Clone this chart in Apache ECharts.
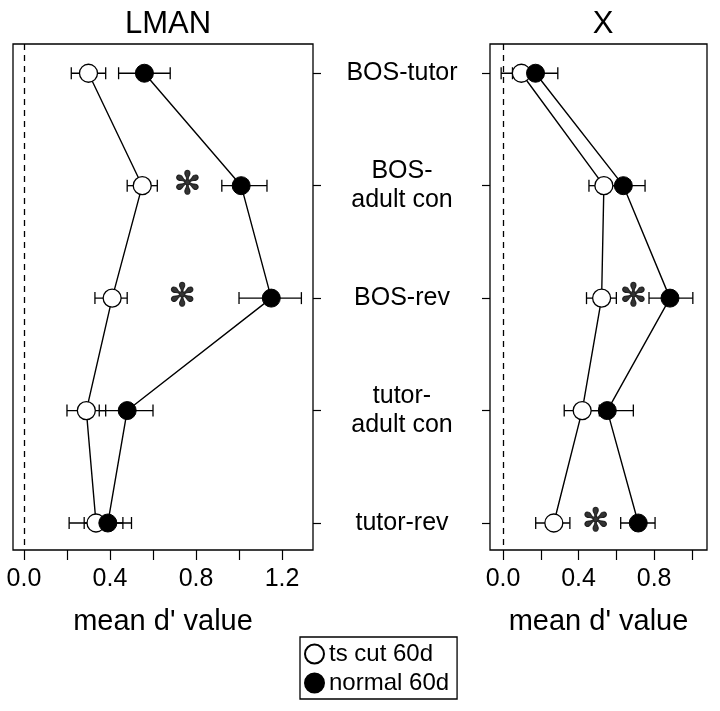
<!DOCTYPE html>
<html><head><meta charset="utf-8">
<script src="https://cdn.jsdelivr.net/npm/echarts@6/dist/echarts.min.js"></script>
<style>html,body{margin:0;padding:0;background:#fff}#c{width:720px;height:711px}</style>
</head><body><div id="c"></div>
<script>
const categories = ["BOS-tutor", "BOS-\nadult con", "BOS-rev", "tutor-\nadult con", "tutor-rev"];
const lmanOpen = [0.30, 0.55, 0.41, 0.29, 0.335];
const lmanOpenLo = [0.22, 0.48, 0.33, 0.20, 0.21];
const lmanOpenHi = [0.38, 0.62, 0.48, 0.38, 0.46];
const lmanFill = [0.56, 1.01, 1.15, 0.48, 0.39];
const lmanFillLo = [0.44, 0.92, 1.00, 0.35, 0.28];
const lmanFillHi = [0.68, 1.13, 1.29, 0.60, 0.50];
const xOpen = [0.097, 0.534, 0.522, 0.419, 0.269];
const xOpenLo = [-0.01, 0.455, 0.442, 0.324, 0.173];
const xOpenHi = [0.20, 0.61, 0.60, 0.51, 0.354];
const xFill = [0.172, 0.637, 0.884, 0.552, 0.716];
const xFillLo = [0.05, 0.52, 0.773, 0.41, 0.623];
const xFillHi = [0.29, 0.752, 1.005, 0.69, 0.805];
const lmanStars = [[0.76, 1], [0.735, 2]];
const xStars = [[0.69, 2], [0.49, 4]];
const lmanTicks = [0, 0.2, 0.4, 0.6, 0.8, 1.0, 1.2];
const xTicks = [0, 0.2, 0.4, 0.6, 0.8, 1.0];
const labelTicks = [0, 0.4, 0.8, 1.2];
const seriesNames = ["ts cut 60d", "normal 60d"];

const chart = echarts.init(document.getElementById('c'));
const font = 'Liberation Sans, Helvetica, Arial, sans-serif';
function xAxisDef(idx, min, max, ticks) {
  return {
    type: 'value', gridIndex: idx, min: min, max: max, position: 'bottom',
    axisLine: {show: false, onZero: false}, splitLine: {show: false},
    axisTick: {show: true, length: 10, customValues: ticks, lineStyle: {color: '#000', width: 1.2}},
    axisLabel: {customValues: labelTicks.filter(v => v <= max), formatter: v => v.toFixed(1),
      fontSize: 25, color: '#000', fontFamily: font, margin: 17},
    name: "mean d' value", nameLocation: 'middle', nameGap: 57,
    nameTextStyle: {fontSize: 29, color: '#000', fontFamily: font}
  };
}
const yIdx = [0, 1, 2, 3, 4];
function yAxisDef(idx, pos, showLabel) {
  return {
    type: 'value', gridIndex: idx, min: -0.26, max: 4.24, inverse: true, position: pos,
    axisLine: {show: false, onZero: false}, splitLine: {show: false},
    axisTick: {show: true, length: 8, customValues: yIdx, lineStyle: {color: '#000', width: 1.2}},
    axisLabel: {show: showLabel, customValues: yIdx, formatter: v => categories[Math.round(v)],
      fontSize: 25, color: '#000', fontFamily: font, align: 'center', margin: 89, lineHeight: 29}
  };
}
function errSeries(gi, lo, hi) {
  return {
    type: 'custom', xAxisIndex: gi, yAxisIndex: gi, z: 2,
    data: lo.map((v, i) => [v, hi[i], i]),
    renderItem: (params, api) => {
      const a = api.coord([api.value(0), api.value(2)]);
      const b = api.coord([api.value(1), api.value(2)]);
      const st = {stroke: '#000', lineWidth: 1.3};
      return {type: 'group', children: [
        {type: 'line', shape: {x1: a[0], y1: a[1], x2: b[0], y2: b[1]}, style: st},
        {type: 'line', shape: {x1: a[0], y1: a[1] - 6, x2: a[0], y2: a[1] + 6}, style: st},
        {type: 'line', shape: {x1: b[0], y1: b[1] - 6, x2: b[0], y2: b[1] + 6}, style: st}
      ]};
    }
  };
}
function lineSeries(gi, vals, name, filled, dashed) {
  const s = {
    type: 'line', name: name, xAxisIndex: gi, yAxisIndex: gi, z: 3,
    data: vals.map((v, i) => [v, i]),
    symbol: 'circle', symbolSize: 18,
    lineStyle: {color: '#000', width: 1.4},
    itemStyle: filled ? {color: '#000', borderColor: '#000', borderWidth: 1} : {color: '#fff', borderColor: '#000', borderWidth: 1.3},
    emphasis: {disabled: true}, animation: false
  };
  if (dashed) s.markLine = {silent: true, symbol: 'none', label: {show: false},
    lineStyle: {type: [6, 5], color: '#000', width: 1.3}, data: [{xAxis: 0}]};
  return s;
}
function starSeries(gi, pts) {
  return {type: 'scatter', xAxisIndex: gi, yAxisIndex: gi, symbolSize: 1, itemStyle: {color: 'transparent'},
    data: pts, label: {show: true, position: 'inside', formatter: '✻', fontSize: 32, color: '#000',
      fontFamily: 'DejaVu Sans', fontWeight: 'bold', textBorderColor: '#000', textBorderWidth: 1}};
}
chart.setOption({
  animation: false,
  title: [
    {text: 'LMAN', left: 163, top: 4, textAlign: 'center', textStyle: {fontSize: 31, fontWeight: 'normal', color: '#000', fontFamily: font}},
    {text: 'X', left: 598, top: 4, textAlign: 'center', textStyle: {fontSize: 31, fontWeight: 'normal', color: '#000', fontFamily: font}}
  ],
  grid: [
    {left: 13, right: 407, top: 44, bottom: 161, show: true, borderColor: '#000', borderWidth: 1.3, backgroundColor: '#fff'},
    {left: 490, right: 13, top: 44, bottom: 161, show: true, borderColor: '#000', borderWidth: 1.3, backgroundColor: '#fff'}
  ],
  xAxis: [xAxisDef(0, -0.051, 1.344, lmanTicks), xAxisDef(1, -0.069, 1.08, xTicks)],
  yAxis: [yAxisDef(0, 'right', true), yAxisDef(1, 'left', false)],
  legend: {
    orient: 'vertical', left: 300, top: 637, data: seriesNames,
    borderColor: '#000', borderWidth: 1.3, padding: [5, 8, 4, 4], itemGap: 5,
    itemWidth: 19, itemHeight: 19, icon: 'circle',
    textStyle: {fontSize: 24, color: '#000', fontFamily: font}
  },
  series: [
    errSeries(0, lmanOpenLo, lmanOpenHi), errSeries(0, lmanFillLo, lmanFillHi),
    lineSeries(0, lmanOpen, seriesNames[0], false, true), lineSeries(0, lmanFill, seriesNames[1], true, false),
    starSeries(0, lmanStars),
    errSeries(1, xOpenLo, xOpenHi), errSeries(1, xFillLo, xFillHi),
    lineSeries(1, xOpen, seriesNames[0], false, true), lineSeries(1, xFill, seriesNames[1], true, false),
    starSeries(1, xStars)
  ]
});
</script></body></html>
